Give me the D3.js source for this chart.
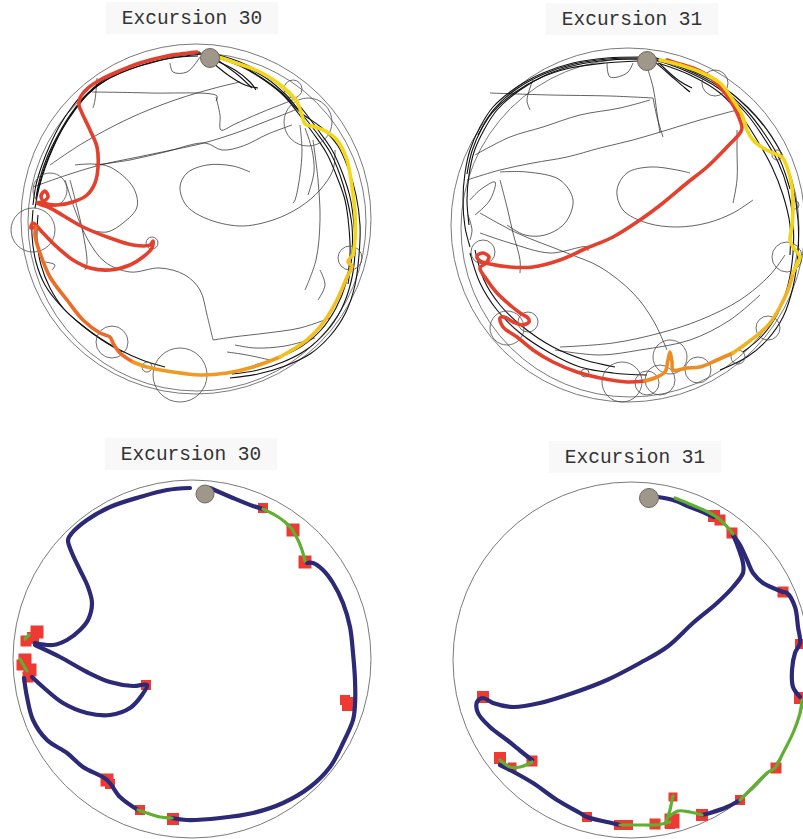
<!DOCTYPE html>
<html>
<head>
<meta charset="utf-8">
<script src="https://cdn.jsdelivr.net/npm/d3@7"></script>
<style>
  html, body { margin: 0; padding: 0; background: #fff; }
  svg { display: block; }
</style>
</head>
<body>
<svg id="chart" width="803" height="839"></svg>
<script>
// ---- Panel layout: each panel has its own local arena frame (0..400) ----
const panels = [
  { key: "tl", title: "Excursion 30", ox: 0,   oy: 0   },
  { key: "tr", title: "Excursion 31", ox: 400, oy: 0   },
  { key: "bl", title: "Excursion 30", ox: 0,   oy: 420 },
  { key: "br", title: "Excursion 31", ox: 400, oy: 420 }
];

// Title anchor in arena frame
const titleAt = { tl: [192, 24], tr: [232, 25], bl: [191, 40], br: [235, 43] };

// Arena walls: [cx, cy, r]
const arenaRings = {
  tl: [[196, 219, 175], [197, 222, 169]],
  tr: [[228, 225, 177], [230, 228, 169]],
  bl: [[192, 239, 179]],
  br: [[231, 240, 178]]
};

// Home base: [cx, cy, r]
const homeBase = { tl: [210, 58, 9.5], tr: [247, 61, 9.5], bl: [205, 74, 9], br: [249, 78, 9.5] };

// Stopping places (thin circles): [cx, cy, r]
const stopCircles = {
  tl: [[308,122,24],[293,89,9],[50,190,17],[33,230,22],[152,243,6],[350,258,12],[112,342,16],[147,367,5],[180,375,27]],
  tr: [[315,83,13],[377,155,5],[395,205,4],[387,257,15],[368,328,12],[338,357,7],[298,370,13],[270,357,17],[260,380,15],[222,382,20],[247,383,12],[185,373,4],[107,328,17],[128,322,10],[83,252,12]]
};

// Earlier excursions hugging the wall (dense bundles)
const wallTraces = {
  tl: [
    [[200,52],[175,55],[150,60],[125,68],[103,78],[85,92],[72,107],[60,125],[50,145],[42,165],[36,185],[33,205]],
    [[203,54],[178,57],[152,62],[128,70],[106,80],[88,94],[75,110],[63,128],[53,148],[45,168],[39,188],[35,208]],
    [[198,56],[172,58],[147,64],[122,72],[100,84],[84,98],[70,115],[58,135],[48,155],[40,178],[36,198]],
    [[201,53],[176,56],[149,61],[124,69],[102,81],[86,95],[73,112],[61,131],[51,151],[43,172],[37,194]],
    [[215,54],[240,62],[265,75],[287,92],[303,110],[318,130],[332,150],[342,172],[350,197],[354,225],[355,253],[351,282],[341,310],[326,332],[306,350],[283,362],[258,370],[232,374]],
    [[218,58],[242,67],[264,80],[284,96],[298,113],[313,133],[327,154],[337,177],[345,200],[349,228],[350,255],[346,283],[336,308],[321,330],[302,346],[280,357],[255,365]],
    [[213,57],[238,64],[262,78],[282,93],[300,112],[322,128],[338,146],[348,168],[356,195],[360,225],[359,255],[355,285],[346,312],[330,336],[310,354],[285,366],[258,374],[230,378]],
    [[216,56],[241,65],[266,78],[286,95],[301,113],[316,132],[330,152],[340,175],[347,199],[352,226],[352,254],[348,284]],
    [[212,62],[228,75],[245,85],[258,88]],
    [[214,60],[235,70],[250,82],[256,90]],
    [[216,59],[238,75],[252,88]],
    [[33,210],[32,235],[36,262],[45,285],[60,305],[78,322],[98,337],[120,350],[142,360],[165,367]],
    [[38,215],[37,240],[41,265],[50,288],[64,309],[83,326],[102,340],[122,352]]
  ],
  tr: [
    [[240,57],[207,58],[173,63],[143,73],[117,87],[93,107],[80,127],[70,150],[65,173],[63,200],[65,227],[70,247]],
    [[243,59],[210,60],[176,65],[146,75],[120,90],[97,110],[84,130],[74,152],[69,175],[67,200],[69,225]],
    [[238,61],[205,63],[170,68],[140,78],[114,93],[92,113],[78,135]],
    [[241,58],[208,59],[174,64],[144,74],[118,88],[95,108],[82,128],[72,151],[67,174]],
    [[253,57],[283,67],[317,83],[347,107],[367,130],[383,157],[393,187],[398,220],[398,253],[393,287],[383,317],[367,340],[347,357],[320,370]],
    [[256,60],[286,71],[318,88],[345,112],[362,135],[378,162],[388,190],[393,220],[393,253],[388,285],[378,313],[362,336],[343,352]],
    [[258,63],[290,75],[320,93],[342,117],[357,140],[372,167],[383,195],[390,225],[390,255]],
    [[254,58],[285,69],[318,86],[346,110],[364,133],[380,160],[390,189]],
    [[255,62],[270,75],[285,88],[290,92]],
    [[260,64],[278,80],[292,88]],
    [[70,253],[80,283],[97,310],[120,333],[150,353],[180,367],[213,373],[247,375]],
    [[75,250],[84,280],[100,305],[123,327],[153,347],[185,360],[215,367]]
  ]
};

// Earlier excursions crossing the arena
const crossTraces = {
  tl: [
    [[92,92],[150,93],[217,96],[216,101]],
    [[50,165],[83,143],[130,118],[175,100],[215,88],[240,82]],
    [[33,187],[67,175],[100,165],[133,158],[167,151],[200,144],[233,134],[267,121],[295,110]],
    [[95,165],[130,160],[165,152],[205,143],[222,150],[243,146],[268,134],[292,125]],
    [[250,172],[233,166],[207,165],[187,173],[180,187],[186,205],[205,218],[240,226],[273,220],[300,207],[320,190],[333,170],[335,150]],
    [[75,165],[92,164],[110,167],[133,187],[137,207],[123,223],[107,232],[90,230]],
    [[216,97],[220,115],[221,130],[235,124],[260,113],[285,103],[297,98]],
    [[300,125],[302,150],[300,175],[295,200],[293,203]],
    [[305,128],[312,150],[314,172],[308,195]],
    [[313,140],[318,180],[320,220],[316,260],[305,290]],
    [[65,180],[75,210],[88,240],[105,262],[130,272],[160,268],[185,275],[200,290],[207,315],[213,340]],
    [[213,340],[233,337],[267,333],[300,328],[330,318]],
    [[227,352],[247,355],[270,360]],
    [[235,345],[255,348],[285,346],[315,338]],
    [[70,180],[77,207],[83,233],[87,263],[85,270]],
    [[170,63],[173,72],[187,72],[200,57]],
    [[97,78],[95,100],[93,108]],
    [[45,262],[55,265],[52,270]],
    [[320,270],[325,285],[318,300]]
  ],
  tr: [
    [[90,93],[150,95],[210,96],[253,98]],
    [[67,180],[100,170],[133,163],[167,157],[200,148],[233,140],[267,130],[300,120],[337,110]],
    [[290,173],[277,170],[250,167],[227,173],[217,190],[223,210],[247,223],[277,227],[307,223],[333,213],[353,200]],
    [[100,172],[127,172],[160,180],[173,200],[165,223],[145,235],[125,235],[107,225]],
    [[80,233],[110,243],[150,253],[187,247],[188,251]],
    [[100,180],[107,207],[113,233],[120,260],[120,273]],
    [[80,213],[117,233],[167,253],[200,267],[233,293],[253,320],[267,350]],
    [[337,130],[337,150],[337,180],[333,203]],
    [[253,98],[257,117],[263,137]],
    [[160,347],[213,343],[260,333],[300,320],[340,300],[370,275],[385,255]],
    [[155,350],[200,355],[240,350],[290,340],[330,320],[360,295]],
    [[247,67],[253,87],[257,113],[260,133]],
    [[207,63],[210,77],[227,73],[233,63]],
    [[133,80],[127,100],[130,110]],
    [[75,155],[110,137],[143,127],[180,115],[220,108],[250,100]],
    [[70,200],[80,190],[95,182],[90,200],[75,215]],
    [[68,215],[72,230],[70,240]]
  ]
};

// Current excursion, coloured by time (legs in order)
const trackLegs = {
  tl: [
    { c: "#e4402e", p: [[197,52],[180,54],[167,56],[140,63],[117,72],[100,80],[88,88],[80,98],[79,105],[82,113],[90,130],[97,147],[98,167],[95,183],[87,195],[73,202],[57,205],[45,203],[41,196],[45,191],[48,197],[42,202],[37,203],[42,205],[50,208],[83,227],[110,238],[133,245],[150,245],[153,241],[152,248],[143,257],[130,265],[110,270],[90,268],[73,260],[57,247],[43,233],[33,223],[31,228],[36,227]] },
    { c: "#ec6b27", p: [[36,227],[35,235],[40,253],[50,277],[67,300],[83,320],[100,333],[110,337],[113,343],[120,353],[133,362]] },
    { c: "#f09a22", p: [[133,362],[147,367],[173,372],[200,375],[227,373],[253,367],[280,357]] },
    { c: "#f3c11d", p: [[280,357],[307,340],[323,323],[337,300],[347,277],[352,266],[348,262],[353,255]] },
    { c: "#f2d816", p: [[353,255],[355,240],[355,213],[352,187],[347,160],[337,140],[327,132],[315,127],[305,124],[302,115],[297,102],[283,87],[260,72],[233,62],[215,56]] }
  ],
  tr: [
    { c: "#e4402e", p: [[267,60],[273,62],[293,68],[310,77],[320,87],[330,100],[337,113],[342,128],[340,133],[327,147],[307,167],[287,183],[263,203],[240,220],[213,237],[187,248],[160,260],[133,267],[110,267],[90,264],[80,261],[77,256],[83,253],[89,257],[86,263],[80,268],[87,280],[97,293],[110,305],[120,313],[128,318],[129,322],[122,325],[113,322],[104,317],[100,318],[103,327],[117,337],[133,350],[153,362],[177,372],[200,378],[227,382],[245,381]] },
    { c: "#ee8c24", p: [[245,381],[257,377],[265,372],[268,360],[270,352],[272,362],[273,370],[287,368],[300,367],[317,360],[333,353]] },
    { c: "#f2b21f", p: [[333,353],[347,343],[360,333],[370,323],[380,307],[388,290],[393,273]] },
    { c: "#f3d515", p: [[393,273],[398,262],[400,257],[393,247],[390,240],[392,227],[393,207],[392,187],[387,167],[382,157],[373,153],[363,148],[353,140],[347,130],[343,117],[333,100],[320,83],[300,72],[280,65],[260,60]] }
  ]
};

// Segmented path: progression (blue) and lingering (green) stretches
const progressionSegments = {
  bl: [
    [[190,68],[167,70],[140,77],[110,87],[87,100],[72,113],[68,120],[72,133],[80,150],[88,167],[92,183],[88,200],[80,210],[67,220],[53,225],[35,223]],
    [[35,225],[60,237],[87,252],[110,262],[133,266],[147,265],[142,275],[130,288],[110,295],[87,293],[63,283],[43,267],[32,257]],
    [[24,258],[27,277],[33,300],[47,320],[67,333],[83,347],[107,360],[120,377],[138,390]],
    [[172,398],[187,400],[220,398],[253,393],[283,383],[310,367],[330,347],[343,323],[353,300],[355,285],[355,260],[353,233],[350,207],[343,183],[333,163],[323,150],[313,143],[307,143]],
    [[210,68],[233,78],[253,86],[263,89]]
  ],
  br: [
    [[258,77],[273,80],[290,87],[305,93],[314,97]],
    [[333,115],[338,127],[343,143],[343,153],[333,167],[317,183],[293,203],[267,227],[240,243],[207,260],[173,273],[140,283],[113,287],[93,283],[83,278],[77,282],[78,293],[90,307],[107,320],[123,333],[132,340]],
    [[100,345],[110,350],[133,363],[157,380],[180,393],[187,397],[207,402],[220,405]],
    [[302,395],[310,393],[327,387],[340,380]],
    [[400,277],[393,267],[392,250],[395,233],[400,223],[398,207],[395,187],[387,173],[383,172]],
    [[333,115],[340,125],[347,140],[353,153],[363,163],[373,168],[383,172]]
  ]
};
const lingeringSegments = {
  bl: [
    [[263,89],[275,95],[285,102],[293,110]],
    [[293,111],[298,120],[302,130],[305,141]],
    [[25,219],[29,215]],
    [[20,239],[24,246],[27,251]],
    [[138,390],[147,393],[160,397],[172,398]]
  ],
  br: [
    [[275,78],[292,85],[308,92],[318,98],[330,110],[333,114]],
    [[132,342],[120,347],[110,347],[100,340]],
    [[220,405],[233,405],[245,405],[255,405],[262,404],[270,402]],
    [[266,402],[270,390],[272,380],[273,376]],
    [[270,396],[278,391],[290,392],[302,395]],
    [[340,380],[353,367],[367,353],[375,348],[383,333],[393,313],[400,293],[402,280]]
  ]
};
// Stops on the segmented path: [x, y, side]
const stopSquares = {
  bl: [[263,88,10],[293,110,13],[305,142,13],[349,284,14],[345,280,10],[107,360,13],[110,364,10],[140,390,10],[173,399,12],
       [146,265,10],[37,212,13],[33,218,12],[26,221,11],[25,240,13],[30,250,13],[28,257,11],[22,245,11]],
  br: [[314,96,12],[320,100,11],[332,113,11],[83,277,12],[132,341,11],[100,338,12],[112,347,9],[187,397,10],
       [219,405,10],[228,405,10],[255,404,11],[272,401,15],[270,404,10],[273,377,9],[302,395,12],[340,380,10],
       [376,348,11],[400,278,12],[400,224,10],[383,172,11]]
};

// ---------------- drawing ----------------
const svg = d3.select("#chart");

panels.forEach(pn => {
  const x = d3.scaleLinear().domain([0, 400]).range([pn.ox, pn.ox + 400]);
  const y = d3.scaleLinear().domain([0, 400]).range([pn.oy, pn.oy + 400]);
  const k = x(1) - x(0);
  const g = svg.append("g").attr("class", "panel-" + pn.key);
  const line = d3.line().x(d => x(d[0])).y(d => y(d[1])).curve(d3.curveCatmullRom.alpha(0.5));

  // title with its pale label box
  const [tx, ty] = titleAt[pn.key];
  const label = g.append("text")
    .attr("x", x(tx)).attr("y", y(ty))
    .attr("text-anchor", "middle")
    .attr("font-family", "'Liberation Mono', 'Courier New', monospace")
    .attr("font-size", 19.5)
    .attr("fill", "#333")
    .text(pn.title);
  const bb = label.node().getBBox();
  g.insert("rect", "text")
    .attr("x", bb.x - 16).attr("y", bb.y - 6)
    .attr("width", bb.width + 32).attr("height", bb.height + 10)
    .attr("fill", "#f8f8f8");

  // arena walls
  g.selectAll("circle.ring").data(arenaRings[pn.key]).join("circle")
    .attr("class", "ring")
    .attr("cx", d => x(d[0])).attr("cy", d => y(d[1])).attr("r", d => d[2] * k)
    .attr("fill", "none").attr("stroke", "#7a7a7a").attr("stroke-width", 1);

  if (wallTraces[pn.key]) {
    // earlier excursions
    g.selectAll("path.cross").data(crossTraces[pn.key]).join("path")
      .attr("class", "cross")
      .attr("d", line)
      .attr("fill", "none").attr("stroke", "#262626")
      .attr("stroke-width", 0.85).attr("stroke-opacity", 0.85)
      .attr("stroke-linejoin", "round");
    g.selectAll("path.wall").data(wallTraces[pn.key]).join("path")
      .attr("class", "wall")
      .attr("d", line)
      .attr("fill", "none").attr("stroke", "#111")
      .attr("stroke-width", 1.1)
      .attr("stroke-linejoin", "round");

    // stopping places
    g.selectAll("circle.stop").data(stopCircles[pn.key]).join("circle")
      .attr("class", "stop")
      .attr("cx", d => x(d[0])).attr("cy", d => y(d[1])).attr("r", d => d[2] * k)
      .attr("fill", "none").attr("stroke", "#4a4a4a").attr("stroke-width", 0.8);

    // current excursion
    g.selectAll("path.leg").data(trackLegs[pn.key]).join("path")
      .attr("class", "leg")
      .attr("d", d => line(d.p))
      .attr("fill", "none").attr("stroke", d => d.c)
      .attr("stroke-width", 3.6)
      .attr("stroke-linecap", "round").attr("stroke-linejoin", "round");
  } else {
    // stops
    g.selectAll("rect.sq").data(stopSquares[pn.key]).join("rect")
      .attr("class", "sq")
      .attr("x", d => x(d[0]) - d[2] * k / 2).attr("y", d => y(d[1]) - d[2] * k / 2)
      .attr("width", d => d[2] * k).attr("height", d => d[2] * k)
      .attr("fill", "#ee3a33");

    g.selectAll("path.prog").data(progressionSegments[pn.key]).join("path")
      .attr("class", "prog")
      .attr("d", line)
      .attr("fill", "none").attr("stroke", "#2c2a76").attr("stroke-width", 4.2)
      .attr("stroke-linecap", "round").attr("stroke-linejoin", "round");

    g.selectAll("path.ling").data(lingeringSegments[pn.key]).join("path")
      .attr("class", "ling")
      .attr("d", line)
      .attr("fill", "none").attr("stroke", "#5fb030").attr("stroke-width", 3.2)
      .attr("stroke-linecap", "round").attr("stroke-linejoin", "round");
  }

  // home base
  const hb = homeBase[pn.key];
  g.append("circle")
    .attr("cx", x(hb[0])).attr("cy", y(hb[1])).attr("r", hb[2] * k)
    .attr("fill", "#9e978a").attr("stroke", "#6e685e").attr("stroke-width", 1);
});
</script>
</body>
</html>
